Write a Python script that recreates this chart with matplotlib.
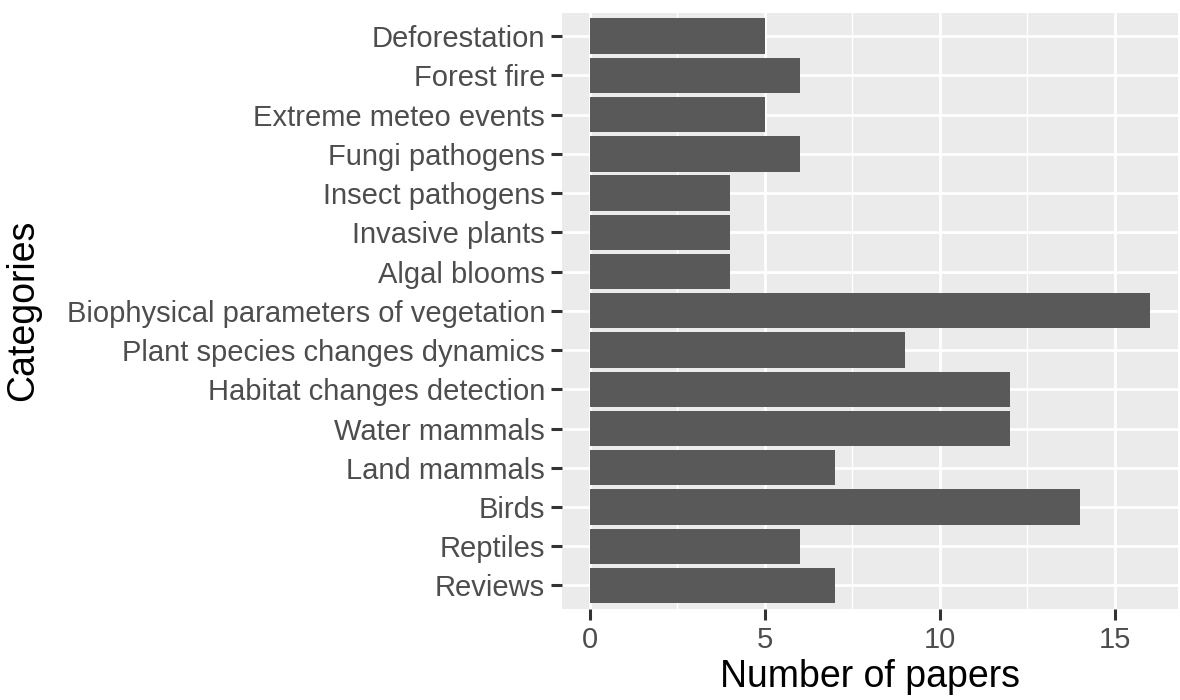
import numpy as np
import matplotlib
matplotlib.use("Agg")
import matplotlib.pyplot as plt
from matplotlib.ticker import MultipleLocator

categories = ["Deforestation", "Forest fire", "Extreme meteo events", "Fungi pathogens",
              "Insect pathogens", "Invasive plants", "Algal blooms",
              "Biophysical parameters of vegetation", "Plant species changes dynamics",
              "Habitat changes detection", "Water mammals", "Land mammals", "Birds",
              "Reptiles", "Reviews"]
papers = [5, 6, 5, 6, 4, 4, 4, 16, 9, 12, 12, 7, 14, 6, 7]

plt.rcParams['font.family'] = ['Liberation Sans', 'DejaVu Sans']

fig = plt.figure(figsize=(11.8, 7), dpi=100)
ax = fig.add_axes([0.476, 0.13, 0.522, 0.852])

y = np.arange(len(categories))[::-1]
ax.set_facecolor("#EBEBEB")
ax.barh(y, papers, height=0.9, color="#595959", zorder=3)

ax.set_xlim(-0.8, 16.8)
ax.set_ylim(-0.6, len(categories) - 0.4)
ax.xaxis.set_major_locator(MultipleLocator(5))
ax.xaxis.set_minor_locator(MultipleLocator(2.5))
ax.set_yticks(y)
ax.set_yticklabels(categories)

ax.grid(which="major", color="white", linewidth=2.0, zorder=0)
ax.grid(which="minor", axis="x", color="white", linewidth=1.0, zorder=0)
ax.set_axisbelow(True)
for s in ax.spines.values():
    s.set_visible(False)

ax.tick_params(which="major", length=8, width=2.2, color="#333333",
               labelsize=21, labelcolor="#4D4D4D", pad=4)
ax.tick_params(which="minor", length=0)

ax.set_xlabel("Number of papers", fontsize=27, color="black", labelpad=4)
ax.set_ylabel("Categories", fontsize=27, color="black")
ax.yaxis.set_label_coords(-0.845, 0.5)

fig.savefig("out.png", dpi=100)
